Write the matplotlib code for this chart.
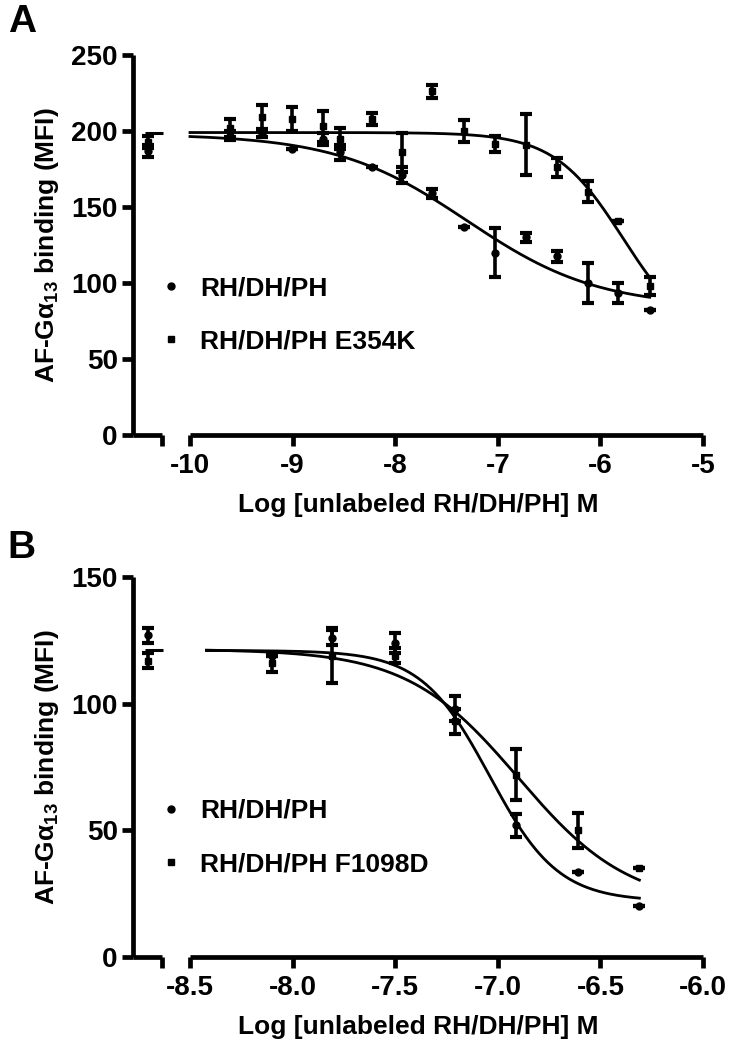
import numpy as np
import matplotlib
matplotlib.use("Agg")
import matplotlib.pyplot as plt
from matplotlib.lines import Line2D

plt.rcParams['font.family'] = ['Liberation Sans', 'DejaVu Sans']
plt.rcParams['font.weight'] = 'bold'
plt.rcParams['mathtext.default'] = 'regular'

# --- Panel A data (log M) ---
a_x = [-9.61, -9.30, -9.01, -8.70, -8.54, -8.23, -7.93, -7.64, -7.33, -7.03,
       -6.73, -6.42, -6.12, -5.83, -5.52]
a_wt = [197, 198, 188, 195, 186, 176, 171, 159, 137, 120, 130, 117.5, 100, 93.5, 82]
a_wt_err = [3, 2, 0, 4, 5, 0, 5, 3, 0, 16, 3, 3.5, 13, 6.5, 0]
a_mut = [202, 209, 208, 203, 195, 208, 186, 226, 200, 191.5, 191, 176, 160, 141, 98]
a_mut_err = [6, 8, 8, 10, 7, 4, 13, 4, 7, 5.5, 20, 6, 7, 0, 6]
a_ctrl_wt, a_ctrl_wt_err = 187, 4
a_ctrl_mut, a_ctrl_mut_err = 193, 4
# fit params: top, bottom, logIC50, hill
a_fit_wt = (198, 84, -7.30, 0.68)
a_fit_mut = (199, 60, -5.78, 1.3)

# --- Panel B data ---
b_x = [-8.10, -7.81, -7.50, -7.21, -6.91, -6.61, -6.31]
b_wt = [119, 126, 124, 98, 52, 33.6, 20]
b_wt_err = [0, 3, 4, 5, 4.5, 0, 0]
b_mut = [116, 119, 119, 93, 72, 50, 35]
b_mut_err = [3.5, 11, 3, 5, 10, 7, 0]
b_ctrl_wt, b_ctrl_wt_err = 127, 3
b_ctrl_mut, b_ctrl_mut_err = 117, 3
b_fit_wt = (121, 22, -7.04, 2.6)
b_fit_mut = (121.5, 20, -6.90, 1.6)


def sigmoid(x, p):
    top, bottom, c, h = p
    return bottom + (top - bottom) / (1 + 10 ** ((x - c) * h))


W, H = 749, 1050
fig = plt.figure(figsize=(W / 100, H / 100), dpi=100)

LW = 3.4
TICKFS = 20
LABFS = 19
err_kw = dict(fmt='none', ecolor='black', elinewidth=2.6, capsize=4.5, capthick=3)


def make_panel(ybot, ymax, yticks, xlim, xticks, xticklabels,
               x, wt, wt_err, mut, mut_err, ctrl, fits, fit_x0, ctrl_line, legend_labels, legend_y):
    bottom = 1 - ybot / H
    height = 380 / H
    ax0 = fig.add_axes([133 / W, bottom, (162 - 133) / W, height])
    ax1 = fig.add_axes([190 / W, bottom, (703 - 190) / W, height], sharey=ax0)

    for ax in (ax0, ax1):
        for s in ('top', 'right'):
            ax.spines[s].set_visible(False)
        for s in ('left', 'bottom'):
            ax.spines[s].set_linewidth(LW)
            ax.spines[s].set_capstyle('butt')
        ax.tick_params(width=LW, length=8, labelsize=TICKFS, pad=3)
        ax.patch.set_alpha(0)
    ax1.spines['left'].set_visible(False)
    ax1.tick_params(axis='y', left=False, labelleft=False)
    ax1.tick_params(axis='x', pad=5)

    ax0.set_ylim(0, ymax)
    ax0.set_yticks(yticks)
    ax0.set_xlim(0, 1)
    ax0.set_xticks([1])
    ax0.set_xticklabels([''])
    for lab in ax0.get_yticklabels():
        lab.set_fontweight('bold')

    ax1.set_xlim(*xlim)
    ax1.set_xticks(xticks)
    ax1.set_xticklabels(xticklabels, fontweight='bold')

    # control (no competitor)
    (c_wt, c_wt_e), (c_mut, c_mut_e) = ctrl
    ax0.errorbar([0.5], [c_wt], yerr=[c_wt_e], **err_kw, clip_on=False)
    ax0.errorbar([0.5], [c_mut], yerr=[c_mut_e], **err_kw, clip_on=False)
    ax0.plot([0.5], [c_wt], 'o', color='black', ms=5, clip_on=False)
    ax0.plot([0.5], [c_mut], 's', color='black', ms=5, clip_on=False)
    ax0.hlines(ctrl_line, 0.4, 1.02, color='black', lw=2.2, clip_on=False)

    # fitted curves
    xx = np.linspace(fit_x0, x[-1], 300)
    for p in fits:
        ax1.plot(xx, sigmoid(xx, p), color='black', lw=2.0, clip_on=False)

    ax1.errorbar(x, wt, yerr=wt_err, **err_kw, clip_on=False)
    ax1.errorbar(x, mut, yerr=mut_err, **err_kw, clip_on=False)
    ax1.plot(x, wt, 'o', color='black', ms=5, ls='none', clip_on=False)
    ax1.plot(x, mut, 's', color='black', ms=5, ls='none', clip_on=False)

    fig.text(418 / W, 1 - (ybot + 70) / H, 'Log [unlabeled RH/DH/PH] M',
             ha='center', va='center', fontsize=LABFS, fontweight='bold')
    fig.text(47 / W, 1 - (ybot - 190) / H, 'AF-G\u03b1$_{13}$ binding (MFI)',
             ha='center', va='center', rotation=90, fontsize=LABFS, fontweight='bold')

    handles = [Line2D([], [], marker='o', color='black', ls='none', ms=5),
               Line2D([], [], marker='s', color='black', ms=5, ls='none')]
    fig.legend(handles, legend_labels, loc='upper left',
               bbox_to_anchor=(158 / W, 1 - legend_y / H), frameon=False,
               handlelength=1.0, handletextpad=0.6,
               labelspacing=1.1, borderpad=0, borderaxespad=0,
               prop={'weight': 'bold', 'size': LABFS})
    return ax0, ax1


make_panel(435, 250, [0, 50, 100, 150, 200, 250], (-10, -5),
           [-10, -9, -8, -7, -6, -5], ['-10', '-9', '-8', '-7', '-6', '-5'],
           a_x, a_wt, a_wt_err, a_mut, a_mut_err,
           ((a_ctrl_wt, a_ctrl_wt_err), (a_ctrl_mut, a_ctrl_mut_err)),
           (a_fit_wt, a_fit_mut), -10, a_fit_mut[0],
           ['RH/DH/PH', 'RH/DH/PH E354K'], 276)

b_ticks = [-8.5, -8.0, -7.5, -7.0, -6.5, -6.0]
make_panel(957, 150, [0, 50, 100, 150], (-8.5, -6.0),
           b_ticks, [f'{t:.1f}' for t in b_ticks],
           b_x, b_wt, b_wt_err, b_mut, b_mut_err,
           ((b_ctrl_wt, b_ctrl_wt_err), (b_ctrl_mut, b_ctrl_mut_err)),
           (b_fit_wt, b_fit_mut), -8.42, b_fit_wt[0],
           ['RH/DH/PH', 'RH/DH/PH F1098D'], 799)

fig.text(8 / W, 1 - 22 / H, 'A', fontsize=28, fontweight='bold', va='center', ha='left')
fig.text(7 / W, 1 - 548 / H, 'B', fontsize=28, fontweight='bold', va='center', ha='left')

fig.savefig('out.png', dpi=100)
